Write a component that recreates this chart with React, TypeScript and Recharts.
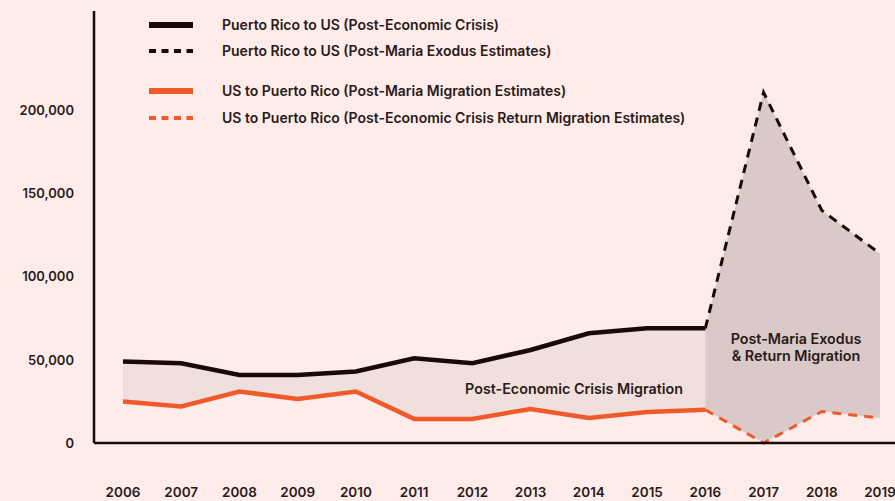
import React from 'react';
import { ComposedChart, Line, Area, XAxis, YAxis } from 'recharts';

const years = ['2006', '2007', '2008', '2009', '2010', '2011', '2012', '2013', '2014', '2015', '2016', '2017', '2018', '2019'];
const prToUs = [49000, 48000, 41000, 41000, 43000, 51000, 48000, 56000, 66000, 69000, 69000, 211000, 140000, 114000];
const usToPr = [25000, 22000, 31000, 26500, 31000, 14500, 14500, 20500, 15000, 18700, 20000, 0, 19000, 15000];
const yTicks = [0, 50000, 100000, 150000, 200000];
const splitIndex = 10;

const legendLabels = [
  'Puerto Rico to US (Post-Economic Crisis)',
  'Puerto Rico to US (Post-Maria Exodus Estimates)',
  'US to Puerto Rico (Post-Maria Migration Estimates)',
  'US to Puerto Rico (Post-Economic Crisis Return Migration Estimates)',
];
const crisisLabel = 'Post-Economic Crisis Migration';
const mariaLabel = ['Post-Maria Exodus', '& Return Migration'];

const BG = '#FDECEA';
const DARK = '#1A0907';
const ORANGE = '#F05A2A';
const LIGHT_BAND = '#EFE0DE';
const DARK_BAND = '#D9C9C8';
const TEXT = '#2A1A18';
const FONT = 'Inter, "Noto Sans", sans-serif';

const data = years.map((y, i) => ({
  year: y,
  prSolid: i <= splitIndex ? prToUs[i] : null,
  prDash: i >= splitIndex ? prToUs[i] : null,
  usSolid: i <= splitIndex ? usToPr[i] : null,
  usDash: i >= splitIndex ? usToPr[i] : null,
  crisisBand: i <= splitIndex ? [usToPr[i], prToUs[i]] : null,
  mariaBand: i >= splitIndex ? [usToPr[i], prToUs[i]] : null,
}));

const legendStyles = [
  { color: DARK, dash: undefined, width: 6, y: 25 },
  { color: DARK, dash: '7 5.5', width: 4, y: 51 },
  { color: ORANGE, dash: undefined, width: 6, y: 91 },
  { color: ORANGE, dash: '7 5.5', width: 4, y: 118 },
];

export default function App() {
  return (
    <div style={{ position: 'fixed', left: 0, top: 0, width: 895, height: 501, background: BG, fontFamily: FONT }}>
      <ComposedChart
        width={895}
        height={501}
        data={data}
        margin={{ top: 11, right: 0, bottom: 0, left: 0 }}
      >
        <XAxis
          dataKey="year"
          padding={{ left: 29, right: 15 }}
          axisLine={{ stroke: DARK, strokeWidth: 2.5 }}
          tickLine={false}
          tickSize={0}
          tickMargin={44}
          height={58}
          interval={0}
          tick={{ fill: TEXT, fontSize: 13.5, fontWeight: 600, fontFamily: FONT }}
        />
        <YAxis
          domain={[0, 260000]}
          ticks={yTicks}
          width={94}
          axisLine={{ stroke: DARK, strokeWidth: 2.5 }}
          tickLine={false}
          tickSize={0}
          tickMargin={20}
          tickFormatter={(v: number) => v.toLocaleString('en-US')}
          tick={{ fill: TEXT, fontSize: 13, fontWeight: 600, fontFamily: FONT }}
        />
        <Area
          dataKey="crisisBand"
          type="linear"
          stroke="none"
          fill={LIGHT_BAND}
          fillOpacity={1}
          isAnimationActive={false}
          activeDot={false}
        />
        <Area
          dataKey="mariaBand"
          type="linear"
          stroke="none"
          fill={DARK_BAND}
          fillOpacity={1}
          isAnimationActive={false}
          activeDot={false}
        />
        <Line dataKey="usSolid" type="linear" stroke={ORANGE} strokeWidth={4.5} dot={false} isAnimationActive={false} />
        <Line dataKey="usDash" type="linear" stroke={ORANGE} strokeWidth={3} strokeDasharray="9 7" dot={false} isAnimationActive={false} />
        <Line dataKey="prSolid" type="linear" stroke={DARK} strokeWidth={4.5} dot={false} isAnimationActive={false} />
        <Line dataKey="prDash" type="linear" stroke={DARK} strokeWidth={3} strokeDasharray="9 7" dot={false} isAnimationActive={false} />
      </ComposedChart>

      <svg width={895} height={140} style={{ position: 'absolute', left: 0, top: 0 }}>
        {legendLabels.map((label, i) => {
          const s = legendStyles[i];
          return (
            <g key={label}>
              <line x1={149} x2={193} y1={s.y} y2={s.y} stroke={s.color} strokeWidth={s.width} strokeDasharray={s.dash} />
              <text x={222} y={s.y} dy="0.35em" fill={TEXT} fontSize={14} fontWeight={600} fontFamily={FONT}>
                {label}
              </text>
            </g>
          );
        })}
      </svg>

      <div style={{ position: 'absolute', left: 574, top: 388, transform: 'translate(-50%, -50%)', fontSize: 14.3, fontWeight: 600, color: TEXT, whiteSpace: 'nowrap' }}>
        {crisisLabel}
      </div>
      <div style={{ position: 'absolute', left: 796, top: 347, transform: 'translate(-50%, -50%)', fontSize: 14.3, fontWeight: 600, color: TEXT, whiteSpace: 'nowrap', textAlign: 'center', lineHeight: '17px' }}>
        {mariaLabel[0]}<br />{mariaLabel[1]}
      </div>
    </div>
  );
}
